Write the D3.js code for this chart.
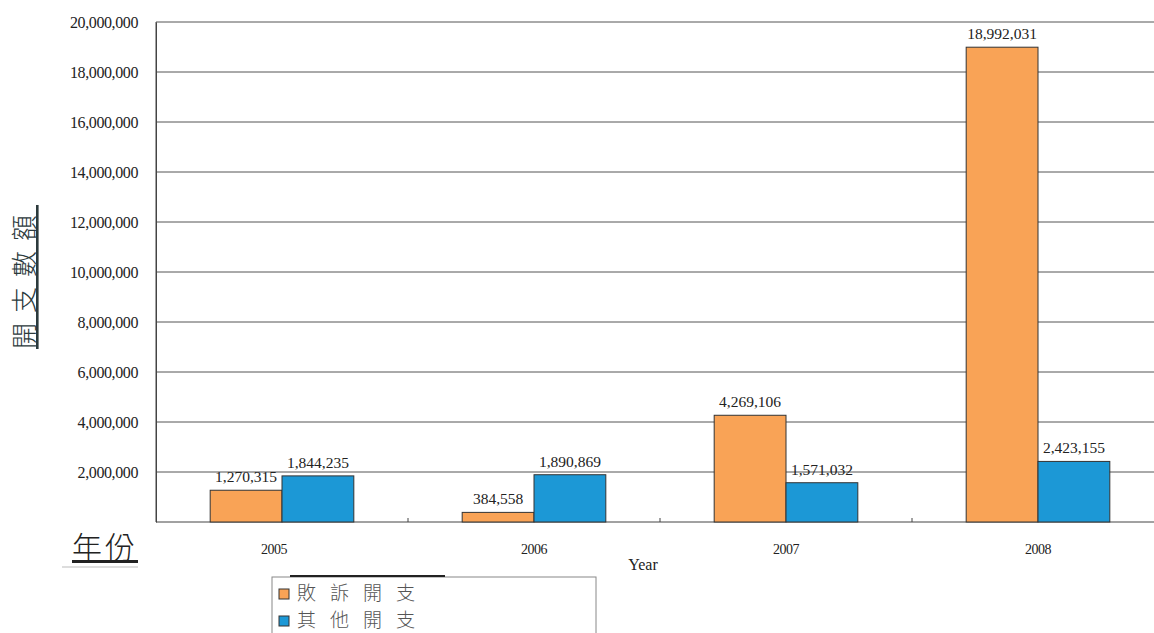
<!DOCTYPE html>
<html><head><meta charset="utf-8">
<script src="https://cdn.jsdelivr.net/npm/d3@7"></script>
<style>body{margin:0;background:#fff}svg{display:block}</style>
</head><body>
<svg id="c" width="1154" height="633"></svg>
<script>
const years = ["2005","2006","2007","2008"];
const lostCases = [1270315, 384558, 4269106, 18992031];
const otherExp = [1844235, 1890869, 1571032, 2423155];
const seriesNames = ["敗訴開支","其他開支"];
const colors = ["#F9A356","#1C98D6"];
const yTicks = [0,2000000,4000000,6000000,8000000,10000000,12000000,14000000,16000000,18000000,20000000];

const svg = d3.select("#c");
const L=156, R=1164, T=22, B=522;
const x = d3.scaleBand().domain(years).range([L,R]).paddingInner(0.43).paddingOuter(0.215);
const xs = d3.scaleBand().domain([0,1]).range([0,x.bandwidth()]);
const y = d3.scaleLinear().domain([0,20000000]).range([B,T]);
const serif = "'Liberation Serif','DejaVu Serif',serif";
const fmt = d3.format(",");

// gridlines
svg.append("g").selectAll("line").data(yTicks.filter(d=>d>0)).join("line")
  .attr("x1",L).attr("x2",1154).attr("y1",d=>y(d)).attr("y2",d=>y(d))
  .attr("stroke","#555").attr("stroke-width",1);

// y axis
const ya = svg.append("g").attr("transform",`translate(${L},0)`)
  .call(d3.axisLeft(y).tickValues(yTicks.filter(d=>d>0)).tickFormat(fmt).tickSize(0).tickPadding(18));
ya.select(".domain").attr("stroke","#444");
ya.selectAll("text").attr("font-family",serif).attr("font-size",16).attr("fill","#222")
  .style("letter-spacing","-0.4px");
svg.append("line").attr("x1",L).attr("x2",L).attr("y1",T).attr("y2",B).attr("stroke","#444");

// x axis
svg.append("line").attr("x1",L).attr("x2",1154).attr("y1",B).attr("y2",B).attr("stroke","#444");
const step = x.step();
svg.append("g").selectAll("line").data(years.slice(1)).join("line")
  .attr("x1",d=>x(d)-x.paddingInner()*step/2).attr("x2",d=>x(d)-x.paddingInner()*step/2)
  .attr("y1",B).attr("y2",B-4).attr("stroke","#444");
svg.append("g").selectAll("text").data(years).join("text")
  .attr("x",d=>x(d)+x.bandwidth()/2 - (d==="2005"?8:0)).attr("y",554)
  .attr("text-anchor","middle").attr("font-family",serif).attr("font-size",14).attr("fill","#222")
  .style("letter-spacing","-0.5px").text(d=>d);

// bars
const series = [lostCases, otherExp];
series.forEach((vals,si)=>{
  const g = svg.append("g");
  g.selectAll("rect").data(years).join("rect")
    .attr("x",(d)=>x(d)+xs(si)).attr("width",xs.bandwidth())
    .attr("y",(d,i)=>y(vals[i])).attr("height",(d,i)=>B-y(vals[i]))
    .attr("fill",colors[si]).attr("stroke","#333").attr("stroke-width",1);
  g.selectAll("text").data(years).join("text")
    .attr("x",(d)=>x(d)+xs(si)+xs.bandwidth()/2)
    .attr("y",(d,i)=>y(vals[i])-8)
    .attr("text-anchor","middle").attr("font-family",serif).attr("font-size",15.5).attr("fill","#222")
    .text((d,i)=>fmt(vals[i]));
});

// axis titles
const cjk = "'Noto Sans CJK TC','Noto Sans CJK SC',sans-serif";
svg.append("text").attr("transform","translate(34,277) rotate(-90)")
  .attr("text-anchor","middle").attr("font-family",cjk).attr("font-size",26).attr("fill","#2c3a3c")
  .attr("font-weight",300)
  .style("text-decoration","underline").style("letter-spacing","10px").text("開支數額");
svg.append("text").attr("x",105).attr("y",558).attr("text-anchor","middle")
  .attr("font-family",cjk).attr("font-size",30).attr("fill","#222").attr("font-weight",300)
  .style("text-decoration","underline").style("letter-spacing","3px").text("年份");
svg.append("line").attr("x1",62).attr("x2",138).attr("y1",567).attr("y2",567).attr("stroke","#bbb");
svg.append("text").attr("x",643).attr("y",570).attr("text-anchor","middle")
  .attr("font-family",serif).attr("font-size",16).attr("fill","#222").text("Year");

// legend
const lg = svg.append("g");
lg.append("rect").attr("x",272).attr("y",577).attr("width",324).attr("height",70)
  .attr("fill","#fff").attr("stroke","#888");
lg.append("line").attr("x1",290).attr("x2",445).attr("y1",576).attr("y2",576).attr("stroke","#222").attr("stroke-width",2);
seriesNames.forEach((n,i)=>{
  lg.append("rect").attr("x",279).attr("y",589+i*27).attr("width",10).attr("height",10)
    .attr("fill",colors[i]).attr("stroke","#333");
  lg.append("text").attr("x",297).attr("y",600+i*27).attr("font-family",cjk).attr("font-size",19)
    .attr("fill","#555").attr("font-weight",300).style("letter-spacing","14px").text(n);
});
</script>
</body></html>
